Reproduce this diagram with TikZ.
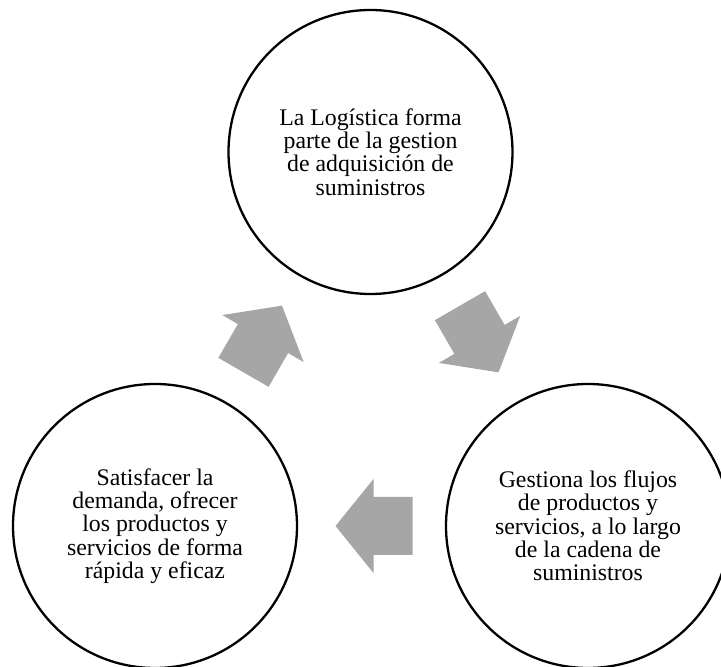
\documentclass[tikz,border=0pt]{standalone}
\usepackage{fontspec}
\setmainfont{Liberation Serif}
\usetikzlibrary{calc}
\definecolor{arrowgray}{RGB}{166,166,166}
\tikzset{
  bubble/.style={circle, draw=black, line width=2.3pt, minimum size=284pt, inner sep=0pt,
    align=center, font=\fontsize{23.8}{23.3}\selectfont},
  blockarrow/.pic={\fill[arrowgray] (38.5,0) -- (0.5,47) -- (0.5,29) -- (-38.5,29) -- (-38.5,-29) -- (0.5,-29) -- (0.5,-47) -- cycle;}
}
\begin{document}
\begin{tikzpicture}[x=1pt,y=1pt]
\useasboundingbox (0,0) rectangle (721,667);
\node[bubble] (top) at (370.5,515) {La Logística forma\\parte de la gestion\\de adquisición de\\suministros};
\node[bubble] (bl) at (155,141) {Satisfacer la\\demanda, ofrecer\\los productos y\\servicios de forma\\rápida y eficaz};
\node[bubble] (br) at (588,141) {Gestiona los flujos\\de productos y\\servicios, a lo largo\\de la cadena de\\suministros};
\pic[rotate=60] (a1) at ($(bl)!0.5!(top)$) {blockarrow};
\pic[rotate=-60] (a2) at ($(top)!0.5!(br)$) {blockarrow};
\pic[rotate=180] (a3) at ($(br)!0.5!(bl)+(2.5,0)$) {blockarrow};
\end{tikzpicture}
\end{document}
